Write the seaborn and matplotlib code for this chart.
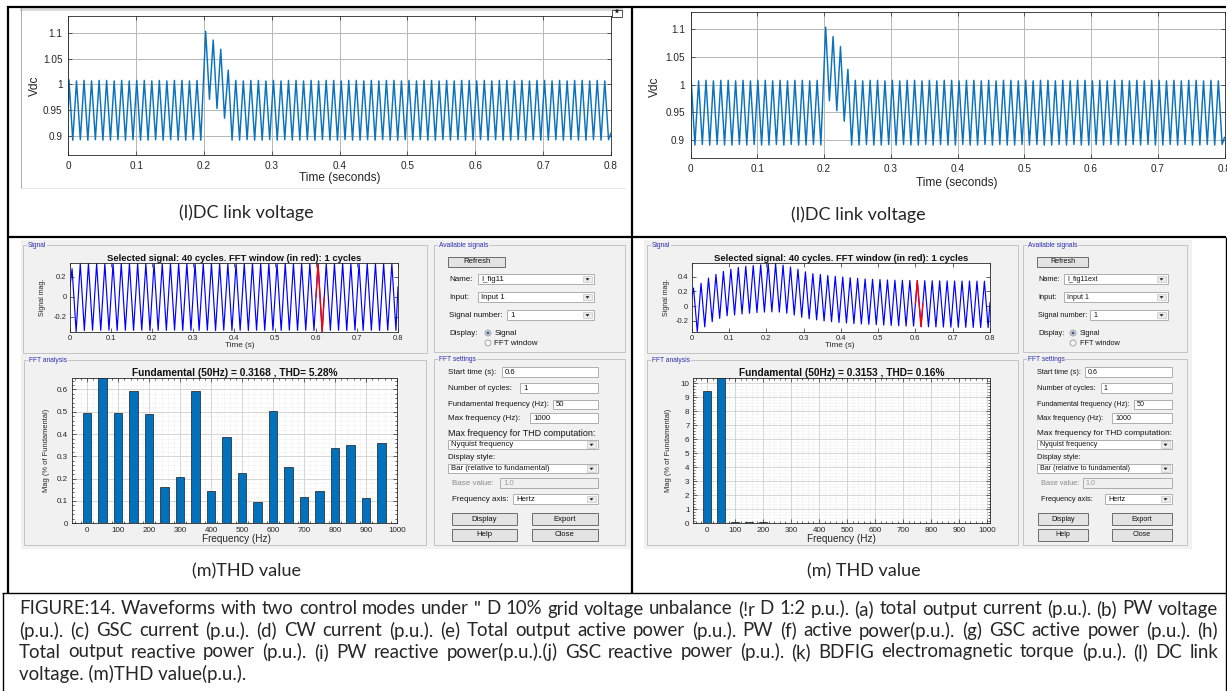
import numpy as np
import matplotlib
matplotlib.use("Agg")
import matplotlib.pyplot as plt
from matplotlib.patches import Rectangle, Circle, Polygon
from matplotlib.ticker import MultipleLocator, FuncFormatter
import seaborn as sns

# ---------------------------------------------------------------- data
time_ticks = [0, 0.1, 0.2, 0.3, 0.4, 0.5, 0.6, 0.7, 0.8]
time_ticklabels = ["0", "0.1", "0.2", "0.3", "0.4", "0.5", "0.6", "0.7", "0.8"]
vdc_ticks = [0.9, 0.95, 1.0, 1.05, 1.1]
vdc_ticklabels = ["0.9", "0.95", "1", "1.05", "1.1"]

# DC-link voltage ripple: turning points (time in s, value in p.u.)
vdc_peak_t = [0.0010, 0.0121, 0.0232, 0.0343, 0.0454, 0.0565, 0.0676, 0.0787, 0.0898,
              0.1009, 0.1120, 0.1231, 0.1342, 0.1453, 0.1564, 0.1675, 0.1786, 0.1897,
              0.2025, 0.2136, 0.2247, 0.2358,
              0.2469, 0.2580, 0.2691, 0.2802, 0.2913, 0.3024, 0.3135, 0.3246, 0.3357, 0.3468,
              0.3579, 0.3690, 0.3801, 0.3912, 0.4023, 0.4134, 0.4245, 0.4356, 0.4467, 0.4578,
              0.4689, 0.4800, 0.4911, 0.5022, 0.5133, 0.5244, 0.5355, 0.5466, 0.5577, 0.5688,
              0.5799, 0.5910, 0.6021, 0.6132, 0.6243, 0.6354, 0.6465, 0.6576, 0.6687, 0.6798,
              0.6909, 0.7020, 0.7131, 0.7242, 0.7353, 0.7464, 0.7575, 0.7686, 0.7797, 0.7908]
vdc_peak_v = [1.009, 1.007, 1.008, 1.007, 1.008, 1.008, 1.007, 1.008, 1.007,
              1.008, 1.008, 1.007, 1.008, 1.007, 1.008, 1.008, 1.007, 1.008,
              1.104, 1.087, 1.069, 1.028,
              1.008, 1.007, 1.008, 1.008, 1.007, 1.008, 1.007, 1.008, 1.008, 1.007,
              1.008, 1.007, 1.008, 1.008, 1.007, 1.008, 1.008, 1.007, 1.008, 1.007,
              1.008, 1.008, 1.007, 1.008, 1.007, 1.008, 1.008, 1.007, 1.008, 1.007,
              1.008, 1.008, 1.007, 1.008, 1.007, 1.008, 1.008, 1.007, 1.008, 1.007,
              1.008, 1.008, 1.007, 1.008, 1.007, 1.008, 1.008, 1.007, 1.008, 1.007]
vdc_trough_t = [0.0066, 0.0177, 0.0288, 0.0399, 0.0510, 0.0621, 0.0732, 0.0843, 0.0954,
                0.1065, 0.1176, 0.1287, 0.1398, 0.1509, 0.1620, 0.1731, 0.1842, 0.1953,
                0.2081, 0.2192, 0.2303, 0.2414,
                0.2525, 0.2636, 0.2747, 0.2858, 0.2969, 0.3080, 0.3191, 0.3302, 0.3413, 0.3524,
                0.3635, 0.3746, 0.3857, 0.3968, 0.4079, 0.4190, 0.4301, 0.4412, 0.4523, 0.4634,
                0.4745, 0.4856, 0.4967, 0.5078, 0.5189, 0.5300, 0.5411, 0.5522, 0.5633, 0.5744,
                0.5855, 0.5966, 0.6077, 0.6188, 0.6299, 0.6410, 0.6521, 0.6632, 0.6743, 0.6854,
                0.6965, 0.7076, 0.7187, 0.7298, 0.7409, 0.7520, 0.7631, 0.7742, 0.7853, 0.7964]
vdc_trough_v = [0.891, 0.892, 0.891, 0.892, 0.891, 0.891, 0.892, 0.891, 0.892,
                0.891, 0.891, 0.892, 0.891, 0.892, 0.891, 0.891, 0.892, 0.891,
                0.971, 0.953, 0.934, 0.891,
                0.891, 0.892, 0.891, 0.891, 0.892, 0.891, 0.892, 0.891, 0.891, 0.892,
                0.891, 0.892, 0.891, 0.891, 0.892, 0.891, 0.891, 0.892, 0.891, 0.892,
                0.891, 0.891, 0.892, 0.891, 0.892, 0.891, 0.891, 0.892, 0.891, 0.892,
                0.891, 0.891, 0.892, 0.891, 0.892, 0.891, 0.891, 0.892, 0.891, 0.892,
                0.891, 0.891, 0.892, 0.891, 0.892, 0.891, 0.891, 0.892, 0.891, 0.892]
vdc_end_t = [0.0, 0.8]
vdc_end_v = [0.955, 0.905]

# 50 Hz current used for the FFT: crest / trough instants of the 40 cycles
cycle_peak_t = [0.005, 0.025, 0.045, 0.065, 0.085, 0.105, 0.125, 0.145, 0.165, 0.185,
                0.205, 0.225, 0.245, 0.265, 0.285, 0.305, 0.325, 0.345, 0.365, 0.385,
                0.405, 0.425, 0.445, 0.465, 0.485, 0.505, 0.525, 0.545, 0.565, 0.585,
                0.605, 0.625, 0.645, 0.665, 0.685, 0.705, 0.725, 0.745, 0.765, 0.785]
cycle_trough_t = [0.015, 0.035, 0.055, 0.075, 0.095, 0.115, 0.135, 0.155, 0.175, 0.195,
                  0.215, 0.235, 0.255, 0.275, 0.295, 0.315, 0.335, 0.355, 0.375, 0.395,
                  0.415, 0.435, 0.455, 0.475, 0.495, 0.515, 0.535, 0.555, 0.575, 0.595,
                  0.615, 0.635, 0.655, 0.675, 0.695, 0.715, 0.735, 0.755, 0.775, 0.795]
sig_a_peak = [0.280, 0.331, 0.333, 0.332, 0.331, 0.333, 0.332, 0.334, 0.331, 0.332,
              0.333, 0.332, 0.331, 0.333, 0.334, 0.332, 0.331, 0.333, 0.332, 0.331,
              0.333, 0.332, 0.334, 0.331, 0.332, 0.333, 0.332, 0.331, 0.333, 0.332,
              0.334, 0.332, 0.331, 0.333, 0.332, 0.331, 0.333, 0.332, 0.331, 0.333]
sig_a_trough = [-0.350, -0.338, -0.336, -0.337, -0.335, -0.338, -0.336, -0.337, -0.336, -0.338,
                -0.336, -0.337, -0.335, -0.338, -0.336, -0.337, -0.336, -0.338, -0.335, -0.337,
                -0.336, -0.338, -0.336, -0.337, -0.335, -0.338, -0.336, -0.337, -0.336, -0.338,
                -0.348, -0.337, -0.336, -0.338, -0.335, -0.337, -0.336, -0.338, -0.336, -0.337]
sig_a_end = [0.10, 0.10]
sig_b_peak = [0.245, 0.310, 0.380, 0.430, 0.470, 0.500, 0.525, 0.540, 0.550, 0.560,
              0.580, 0.575, 0.555, 0.530, 0.500, 0.465, 0.440, 0.430, 0.415, 0.405,
              0.395, 0.385, 0.377, 0.368, 0.364, 0.360, 0.355, 0.352, 0.350, 0.348,
              0.347, 0.345, 0.344, 0.343, 0.342, 0.341, 0.340, 0.340, 0.339, 0.338]
sig_b_trough = [-0.345, -0.280, -0.210, -0.165, -0.130, -0.120, -0.105, -0.095, -0.086, -0.080,
                -0.077, -0.080, -0.095, -0.120, -0.150, -0.170, -0.185, -0.200, -0.210, -0.220,
                -0.227, -0.236, -0.240, -0.245, -0.250, -0.255, -0.260, -0.264, -0.268, -0.270,
                -0.277, -0.279, -0.281, -0.282, -0.284, -0.285, -0.286, -0.287, -0.288, -0.289]
sig_b_end = [0.10, 0.05]
fft_window = [0.60, 0.62]

# Harmonic spectrum, % of fundamental (the 50 Hz bar is the fundamental itself)
harm_freq = [0, 50, 100, 150, 200, 250, 300, 350, 400, 450,
             500, 550, 600, 650, 700, 750, 800, 850, 900, 950]
thd_a_mag = [0.495, 100.0, 0.495, 0.591, 0.490, 0.161, 0.207, 0.594, 0.146, 0.385,
             0.225, 0.096, 0.503, 0.251, 0.119, 0.143, 0.336, 0.352, 0.112, 0.358]
thd_b_mag = [9.47, 100.0, 0.12, 0.07, 0.06, 0.05, 0.04, 0.03, 0.03, 0.02,
             0.02, 0.02, 0.02, 0.02, 0.02, 0.02, 0.02, 0.02, 0.02, 0.02]

caption_lines = [
    'FIGURE:14. Waveforms with two control modes under " D 10% grid voltage unbalance (!r D 1:2 p.u.). (a) total output current (p.u.). (b) PW voltage',
    "(p.u.). (c) GSC current (p.u.). (d) CW current (p.u.). (e) Total output active power (p.u.). PW (f) active power(p.u.). (g) GSC active power (p.u.). (h)",
    "Total output reactive power (p.u.). (i) PW reactive power(p.u.).(j) GSC reactive power (p.u.). (k) BDFIG electromagnetic torque (p.u.). (l) DC link",
    "voltage. (m)THD value(p.u.).",
]

# ---------------------------------------------------------------- setup
sns.set_theme(style="white")
MATLAB_FONT = ["Liberation Sans", "DejaVu Sans"]
DOC_FONT = ["Lato", "DejaVu Sans"]
plt.rcParams["font.family"] = MATLAB_FONT

W, H = 1227, 691
fig = plt.figure(figsize=(W / 100, H / 100), dpi=100)
fig.patch.set_facecolor("white")

# full-figure canvas in pixel units (y downwards) for the document frame and GUI
bg = fig.add_axes([0, 0, 1, 1])
bg.set_xlim(0, W)
bg.set_ylim(H, 0)
bg.axis("off")

GUI_BG = "#f1f1f1"
INK = "#262626"


def px_axes(x0, y0, x1, y1):
    return fig.add_axes([x0 / W, 1 - y1 / H, (x1 - x0) / W, (y1 - y0) / H])


def style_matlab(ax, size, pad=3):
    for s in ax.spines.values():
        s.set_visible(True)
        s.set_color(INK)
        s.set_linewidth(0.6)
    ax.tick_params(which="both", direction="in", top=True, right=True, bottom=True,
                   left=True, colors=INK, labelsize=size, pad=pad, width=0.5)
    ax.tick_params(which="major", length=3)
    ax.tick_params(which="minor", length=1.5)
    ax.set_facecolor("white")


def build_trace(pk_t, pk_v, tr_t, tr_v, end_t, end_v):
    t = np.concatenate([pk_t, tr_t, end_t])
    v = np.concatenate([pk_v, tr_v, end_v])
    order = np.argsort(t)
    return t[order], v[order]


def place_label(ax, axis, text, x, y, size):
    if axis == "x":
        ax.set_xlabel(text, fontsize=size, color=INK, va="center", ha="center")
        ax.xaxis.set_label_coords(x, y, transform=bg.transData)
    else:
        ax.set_ylabel(text, fontsize=size, color=INK, va="center", ha="center")
        ax.yaxis.set_label_coords(x, y, transform=bg.transData)


# ---------------------------------------------------------------- document frame
def hline(y, x0, x1, lw=1.4, c="black"):
    bg.plot([x0, x1], [y, y], color=c, lw=lw, solid_capstyle="butt")


def vline(x, y0, y1, lw=1.4, c="black"):
    bg.plot([x, x], [y0, y1], color=c, lw=lw, solid_capstyle="butt")


hline(6.5, 7, 1226, lw=1.6)
hline(237, 7, 1226, lw=1.6)
hline(593, 2, 1226, lw=1.0)
vline(7.5, 6, 593, lw=1.6)
vline(632, 6, 593, lw=1.6)
vline(2.5, 593, 691, lw=1.0)
vline(1225.5, 237, 691, lw=1.0)

# ---------------------------------------------------------------- DC-link voltage
vdc_t, vdc_v = build_trace(vdc_peak_t, vdc_peak_v, vdc_trough_t, vdc_trough_v, vdc_end_t, vdc_end_v)

# figure window edge around the left scope
bg.add_patch(Rectangle((20, 7.5), 603, 3.5, fc="#dadada", ec="none"))
vline(20.5, 8, 188, lw=0.6, c="#9c9c9c")
hline(188, 20, 626, lw=0.6, c="#e4e4e4")
bg.add_patch(Rectangle((612, 10), 10, 7, fc="white", ec="#333333", lw=0.6))
bg.text(617, 14.2, "*", fontsize=7, fontweight="bold", ha="center", va="center", color="#111111")


def vdc_panel(box, ylim, xlab_xy, ylab_xy):
    ax = px_axes(*box)
    sns.lineplot(x=vdc_t, y=vdc_v, ax=ax, color="#0a72bf", linewidth=1.05,
                 estimator=None, sort=False)
    ax.set_xlim(0, 0.8)
    ax.set_ylim(*ylim)
    ax.set_xticks(time_ticks)
    ax.set_xticklabels(time_ticklabels)
    ax.set_yticks(vdc_ticks)
    ax.set_yticklabels(vdc_ticklabels)
    ax.grid(True, color="#b6b6b6", linewidth=0.7)
    ax.set_axisbelow(True)
    style_matlab(ax, 7.2, pad=4)
    place_label(ax, "x", "Time (seconds)", *xlab_xy, 8.6)
    place_label(ax, "y", "Vdc", *ylab_xy, 8.6)
    return ax


vdc_panel((68.3, 16, 611, 155), (0.862, 1.134), (340, 178), (35, 86))
vdc_panel((690.5, 11.7, 1224.5, 158.3), (0.867, 1.132), (957, 183), (655, 87))

bg.text(246, 213, "(l)DC link voltage", fontsize=13, family=DOC_FONT, ha="center", va="center")
bg.text(858, 215, "(l)DC link voltage", fontsize=13, family=DOC_FONT, ha="center", va="center")

# ---------------------------------------------------------------- powergui FFT windows
bg.add_patch(Rectangle((21, 240), 609, 309, fc=GUI_BG, ec="none"))
bg.add_patch(Rectangle((644, 240), 548, 309, fc=GUI_BG, ec="none"))


def groupbox(x0, y0, x1, y1, label):
    bg.add_patch(Rectangle((x0, y0), x1 - x0, y1 - y0, fill=False, ec="#c3c3c3", lw=0.7))
    bg.text(x0 + 5, y0, label, fontsize=4.8, color="#2c2cb4", ha="left", va="center",
            bbox=dict(boxstyle="square,pad=0.15", fc=GUI_BG, ec="none"))


class Gui:
    """Widgets of one FFT tool window, with its own text scale."""

    def __init__(self, scale):
        self.k = scale

    def label(self, x, y, text, color="#151515", size=5.8):
        bg.text(x, y, text, fontsize=size * self.k, color=color, ha="left", va="center")

    def textbox(self, x0, x1, yc, text, dropdown=False, disabled=False, h=9.5):
        fc = "#f0f0f0" if disabled else "white"
        bg.add_patch(Rectangle((x0, yc - h / 2), x1 - x0, h, fc=fc, ec="#a2a2a2", lw=0.6))
        bg.text(x0 + 3, yc + 0.3, text, fontsize=5.6 * self.k, ha="left", va="center",
                color="#9a9a9a" if disabled else "#111111")
        if dropdown:
            bg.add_patch(Rectangle((x1 - 11, yc - h / 2 + 1.5), 9, h - 3, fc="#ececec",
                                   ec="#bdbdbd", lw=0.4))
            bg.add_patch(Polygon([[x1 - 8.5, yc - 0.8], [x1 - 4.5, yc - 0.8], [x1 - 6.5, yc + 1.6]],
                                 closed=True, fc="#1a1a1a", ec="none"))

    def button(self, x0, x1, y0, y1, text):
        bg.add_patch(Rectangle((x0, y0), x1 - x0, y1 - y0, fc="#e3e3e3", ec="#6c6c6c", lw=0.7))
        bg.text((x0 + x1) / 2, (y0 + y1) / 2 + 0.3, text, fontsize=5.6 * self.k, ha="center",
                va="center", color="#111111")

    def radio(self, x, y, text, selected):
        bg.add_patch(Circle((x, y), 3.0, fc="#e6e6e6" if selected else "#f7f7f7",
                            ec="#8a8a8a", lw=0.5))
        if selected:
            bg.add_patch(Circle((x, y), 1.5, fc="#3d5aa0", ec="none"))
        self.label(x + 6.5, y, text)


def settings_panel(x0, x1, lab_x, box_x, signal_name, scale):
    """Right-hand column of the FFT tool: signal selection and FFT settings."""
    g = Gui(scale)
    groupbox(x0, 245, x1, 352, "Available signals")
    g.button(lab_x, box_x["refresh"], 256.5, 266.5, "Refresh")
    g.label(lab_x + 1, 279, "Name:")
    g.textbox(box_x["name"], box_x["right"] - 4, 279, signal_name, dropdown=True)
    g.label(lab_x + 1, 297, "Input:")
    g.textbox(box_x["name"], box_x["right"] - 4, 297, "Input 1", dropdown=True)
    g.label(lab_x + 1, 315, "Signal number:")
    g.textbox(box_x["signum"], box_x["right"] - 4, 315, "1", dropdown=True)
    g.label(lab_x + 1, 333, "Display:")
    g.radio(box_x["radio"], 333, "Signal", True)
    g.radio(box_x["radio"], 343, "FFT window", False)

    groupbox(x0, 359, x1, 545, "FFT settings")
    right = box_x["right"]
    g.label(lab_x, 372, "Start time (s):")
    g.textbox(box_x["start"], right, 372, "0.6")
    g.label(lab_x, 388, "Number of cycles:")
    g.textbox(box_x["ncyc"], right, 388, "1")
    g.label(lab_x, 404.5, "Fundamental frequency (Hz):", size=5.6)
    g.textbox(box_x["fund"], right, 404.5, "50")
    g.label(lab_x, 418, "Max frequency (Hz):")
    g.textbox(box_x["fmax"], right, 418, "1000")
    g.label(lab_x, 433, "Max frequency for THD computation:", size=6.5)
    g.textbox(lab_x, right, 444.5, "Nyquist frequency", dropdown=True)
    g.label(lab_x, 457, "Display style:")
    g.textbox(lab_x, right, 468.5, "Bar (relative to fundamental)", dropdown=True)
    g.label(lab_x + 4, 483, "Base value:", color="#8a8a8a")
    g.textbox(box_x["base"], right, 483, "1.0", disabled=True)
    g.label(lab_x + 4, 499, "Frequency axis:")
    g.textbox(box_x["faxis"], right, 499, "Hertz", dropdown=True)
    bx = box_x["btn"]
    g.button(bx[0], bx[1], 513, 525, "Display")
    g.button(bx[2], right, 513, 525, "Export")
    g.button(bx[0], bx[1], 528.5, 540.5, "Help")
    g.button(bx[2], right, 528.5, 540.5, "Close")


settings_panel(434, 625, 448,
               dict(refresh=505, name=478, signum=507, radio=488, right=598, start=502,
                    ncyc=520, fund=553, fmax=530, base=500, faxis=513, btn=(452, 517, 532)),
               "I_fig11", 1.0)
settings_panel(1023, 1187, 1037,
               dict(refresh=1088, name=1064, signum=1090, radio=1073, right=1172, start=1085,
                    ncyc=1101, fund=1134, fmax=1112, base=1083, faxis=1105, btn=(1038, 1088, 1112)),
               "I_fig11ext", 0.92)

groupbox(23, 245, 427, 353, "Signal")
groupbox(24, 360, 426, 545, "FFT analysis")
groupbox(647, 245, 1018, 353, "Signal")
groupbox(647, 360, 1018, 545, "FFT analysis")

fmt_g = FuncFormatter(lambda v, _: f"{v:g}")


def signal_panel(box, pk, tr, ends, ylim, yticks, xlab_xy, ylab_xy):
    t, v = build_trace(cycle_peak_t, pk, cycle_trough_t, tr, vdc_end_t, ends)
    ax = px_axes(*box)
    sns.lineplot(x=t, y=v, ax=ax, color="#0000FF", linewidth=0.85, estimator=None, sort=False)
    inside = (t > fft_window[0]) & (t < fft_window[1])
    wt = np.r_[fft_window[0], t[inside], fft_window[1]]
    wv = np.r_[np.interp(fft_window[0], t, v), v[inside], np.interp(fft_window[1], t, v)]
    sns.lineplot(x=wt, y=wv, ax=ax, color="#FF0000", linewidth=0.95, estimator=None, sort=False)
    ax.set_xlim(0, 0.8)
    ax.set_ylim(*ylim)
    ax.set_xticks(time_ticks)
    ax.set_xticklabels(time_ticklabels)
    ax.set_yticks(yticks)
    ax.yaxis.set_major_formatter(fmt_g)
    style_matlab(ax, 5.4, pad=2.5)
    ax.set_title("Selected signal: 40 cycles. FFT window (in red): 1 cycles",
                 fontsize=6.8, fontweight="bold", color="#111111", pad=1.5)
    place_label(ax, "x", "Time (s)", *xlab_xy, 5.9)
    place_label(ax, "y", "Signal mag.", *ylab_xy, 5.0)
    return ax


def fft_panel(box, mag, ylim, ymajor, yminor, title, xmax, xlab_xy, ylab_xy):
    ax = px_axes(*box)
    sns.barplot(x=harm_freq, y=mag, native_scale=True, width=0.55, color="#0072BD",
                saturation=1, edgecolor="#1a1a1a", linewidth=0.5, errorbar=None, ax=ax)
    ax.set_xlim(-50, xmax)
    ax.set_ylim(*ylim)
    ax.set_xticks(range(0, 1001, 100))
    ax.xaxis.set_major_formatter(fmt_g)
    ax.xaxis.set_minor_locator(MultipleLocator(20))
    ax.yaxis.set_major_locator(MultipleLocator(ymajor))
    ax.yaxis.set_minor_locator(MultipleLocator(yminor))
    ax.yaxis.set_major_formatter(fmt_g)
    ax.grid(True, which="major", color="#cfcfcf", linewidth=0.6)
    ax.grid(True, which="minor", color="#dcdcdc", linewidth=0.4, linestyle=":")
    ax.set_axisbelow(True)
    style_matlab(ax, 5.8, pad=2.5)
    ax.set_title(title, fontsize=7.3, fontweight="bold", color="#111111", pad=2)
    place_label(ax, "x", "Frequency (Hz)", *xlab_xy, 7.2)
    place_label(ax, "y", "Mag (% of Fundamental)", *ylab_xy, 5.4)
    return ax


signal_panel((70, 263.3, 398, 331.7), sig_a_peak, sig_a_trough, sig_a_end,
             (-0.35, 0.334), [-0.2, 0, 0.2], (240, 345), (43, 297))
signal_panel((691.7, 263.3, 990, 331.7), sig_b_peak, sig_b_trough, sig_b_end,
             (-0.345, 0.58), [-0.2, 0, 0.2, 0.4], (840, 345), (667, 297))

fft_panel((71.7, 378.3, 397, 523.3), thd_a_mag, (0, 0.65), 0.1, 0.02,
          "Fundamental (50Hz) = 0.3168 , THD= 5.28%", 1000, (236, 539), (46, 450))
fft_panel((693, 378.3, 990, 523.3), thd_b_mag, (0, 10.36), 1, 0.2,
          "Fundamental (50Hz) = 0.3153 , THD= 0.16%", 1010, (841, 539), (669, 450))

bg.text(246, 571, "(m)THD value", fontsize=13, family=DOC_FONT, ha="center", va="center")
bg.text(864, 571, "(m) THD value", fontsize=13, family=DOC_FONT, ha="center", va="center")

# ---------------------------------------------------------------- justified caption
fig.canvas.draw()
renderer = fig.canvas.get_renderer()


def text_width(s, size):
    t = bg.text(0, 0, s, fontsize=size, family=DOC_FONT)
    w = t.get_window_extent(renderer).width
    t.remove()
    return w


cap_x0, cap_x1 = 19, 1218
cap_y = [609, 630.5, 652, 673.5]
cap_size = 14.2
widest = max(text_width(line, cap_size) for line in caption_lines[:3])
if widest > 0.99 * (cap_x1 - cap_x0):
    cap_size *= 0.99 * (cap_x1 - cap_x0) / widest

for i, line in enumerate(caption_lines):
    if i < len(caption_lines) - 1:
        words = line.split(" ")
        widths = [text_width(w, cap_size) for w in words]
        gap = (cap_x1 - cap_x0 - sum(widths)) / (len(words) - 1)
        x = cap_x0
        for w, wd in zip(words, widths):
            bg.text(x, cap_y[i], w, fontsize=cap_size, family=DOC_FONT, ha="left", va="center")
            x += wd + gap
    else:
        bg.text(cap_x0, cap_y[i], line, fontsize=cap_size, family=DOC_FONT, ha="left", va="center")

fig.savefig("out.png", dpi=100, facecolor="white")
